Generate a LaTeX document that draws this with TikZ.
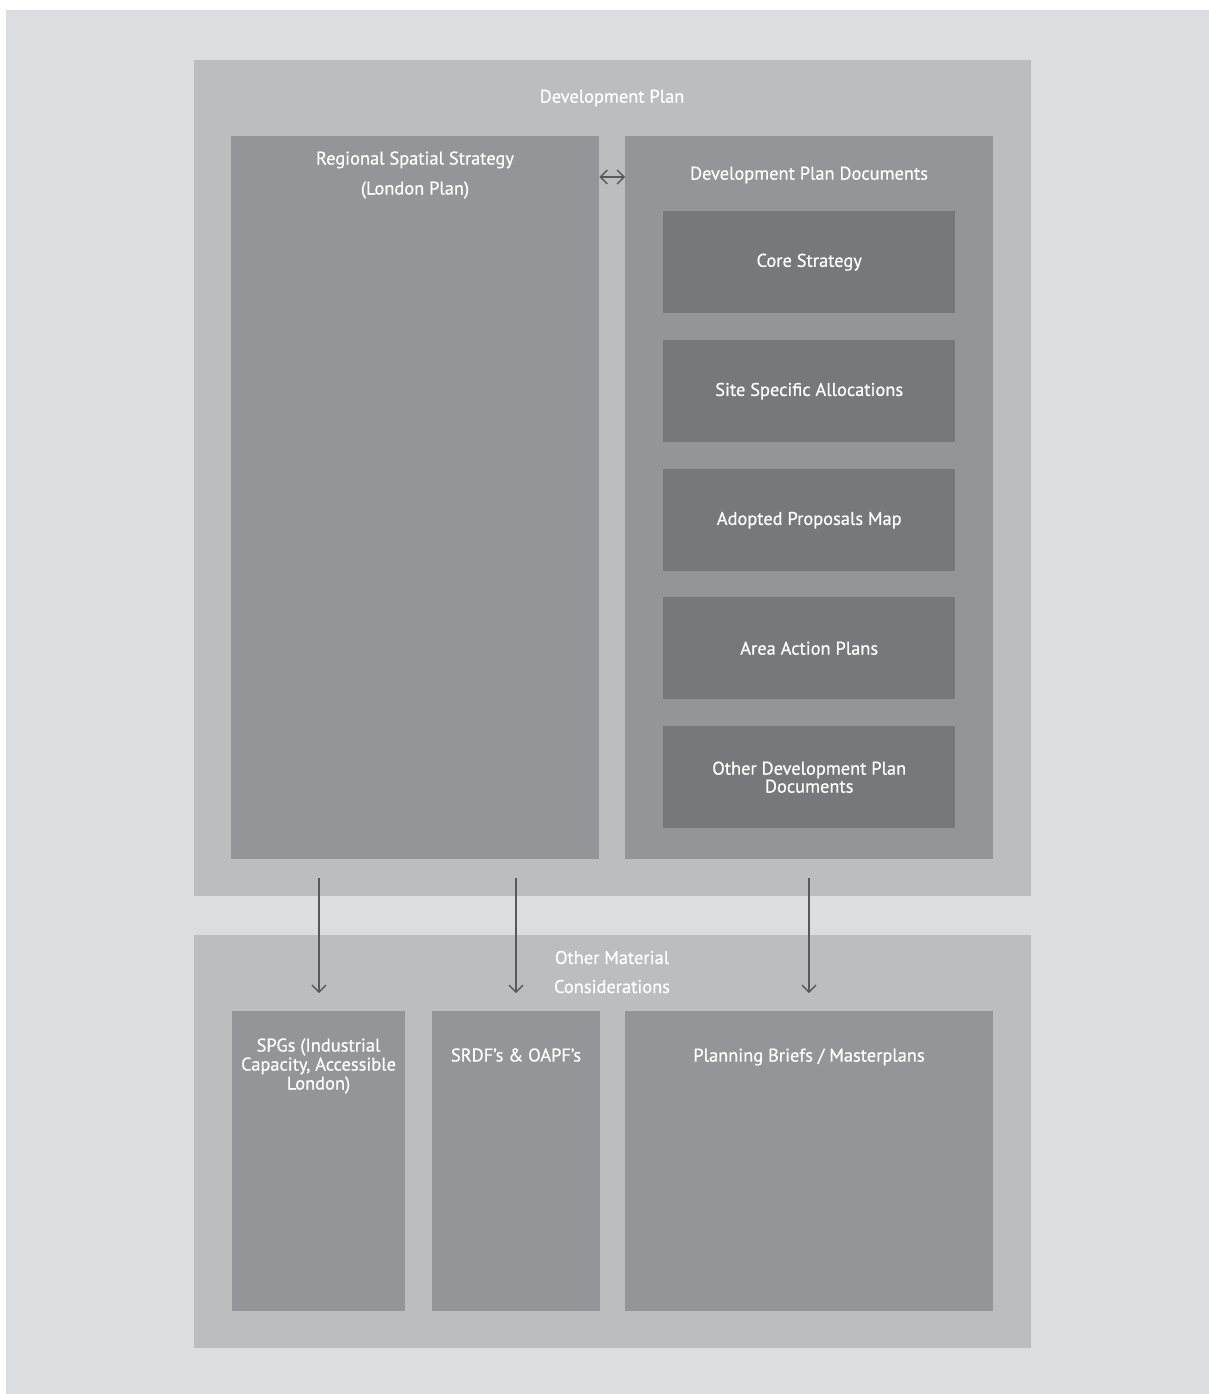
\documentclass[tikz,border=0pt]{standalone}
\usepackage{fontspec}
\setmainfont{PT Sans}[FakeBold=0.6]
\usetikzlibrary{arrows.meta}
\definecolor{bgc}{HTML}{DCDDDF}
\definecolor{midc}{HTML}{BCBDBF}
\definecolor{darkc}{HTML}{939598}
\definecolor{deepc}{HTML}{77787B}
\definecolor{arrc}{HTML}{58595B}
\tikzset{
  panel/.style={fill=midc, draw=none, inner sep=0pt, anchor=north west},
  column/.style={fill=darkc, draw=none, inner sep=0pt, anchor=north west},
  docbox/.style={fill=deepc, draw=none, inner sep=0pt, anchor=north west},
  lbl/.style={text=white, font=\fontsize{18.4}{19}\selectfont, align=center, inner sep=0pt},
  conn/.style={draw=arrc, line width=1.4pt, -{Straight Barb[length=7pt,width=14pt]}},
  dconn/.style={draw=arrc, line width=1.4pt, {Straight Barb[length=7pt,width=14pt]}-{Straight Barb[length=7pt,width=14pt]}}
}
\begin{document}
\begin{tikzpicture}[x=1pt,y=-1pt]
\useasboundingbox (0,0) rectangle (1209,1394);
\fill[bgc] (6,10) rectangle (1209,1394);
% Development Plan
\node[panel, minimum width=837pt, minimum height=836pt] (dp) at (194,60) {};
\node[lbl] (dpt) at (612,98) {Development Plan};
\node[column, minimum width=368pt, minimum height=723pt] (rss) at (231,136) {};
\node[lbl] (rsst) at (415,175) {Regional Spatial Strategy\\[11pt](London Plan)};
\node[column, minimum width=368pt, minimum height=723pt] (dpd) at (625,136) {};
\node[lbl] (dpdt) at (809,175) {Development Plan Documents};
\node[docbox, minimum width=292pt, minimum height=102pt] (cs) at (663,211) {};
\node[lbl] at (cs.center) {Core Strategy};
\node[docbox, minimum width=292pt, minimum height=102pt] (ssa) at (663,340) {};
\node[lbl] at (ssa.center) {Site Specific Allocations};
\node[docbox, minimum width=292pt, minimum height=102pt] (apm) at (663,469) {};
\node[lbl] at (apm.center) {Adopted Proposals Map};
\node[docbox, minimum width=292pt, minimum height=102pt] (aap) at (663,597) {};
\node[lbl] at (aap.center) {Area Action Plans};
\node[docbox, minimum width=292pt, minimum height=102pt] (odpd) at (663,726) {};
\node[lbl, font=\fontsize{18.4}{18}\selectfont] at (odpd.center) {Other Development Plan\\Documents};
\draw[dconn] (rss.east |- 0,177) -- (dpd.west |- 0,177);
% Other Material Considerations
\node[panel, minimum width=837pt, minimum height=413pt] (omc) at (194,935) {};
\node[lbl] (omct) at (612,972) {Other Material\\[10pt]Considerations};
\node[column, minimum width=173pt, minimum height=300pt] (spg) at (232,1011) {};
\node[lbl] at (318.5,1066) {SPGs (Industrial\\Capacity, Accessible\\London)};
\node[column, minimum width=168pt, minimum height=300pt] (srdf) at (432,1011) {};
\node[lbl] at (516,1055) {SRDF’s \& OAPF’s};
\node[column, minimum width=368pt, minimum height=300pt] (pb) at (625,1011) {};
\node[lbl] at (809,1057) {Planning Briefs / Masterplans};
% connectors
\coordinate (a1) at (319,878); \coordinate (b1) at (319,993);
\coordinate (a2) at (516,878); \coordinate (b2) at (516,993);
\coordinate (a3) at (809,878); \coordinate (b3) at (809,993);
\draw[conn] (a1) -- (b1);
\draw[conn] (a2) -- (b2);
\draw[conn] (a3) -- (b3);
\end{tikzpicture}
\end{document}
